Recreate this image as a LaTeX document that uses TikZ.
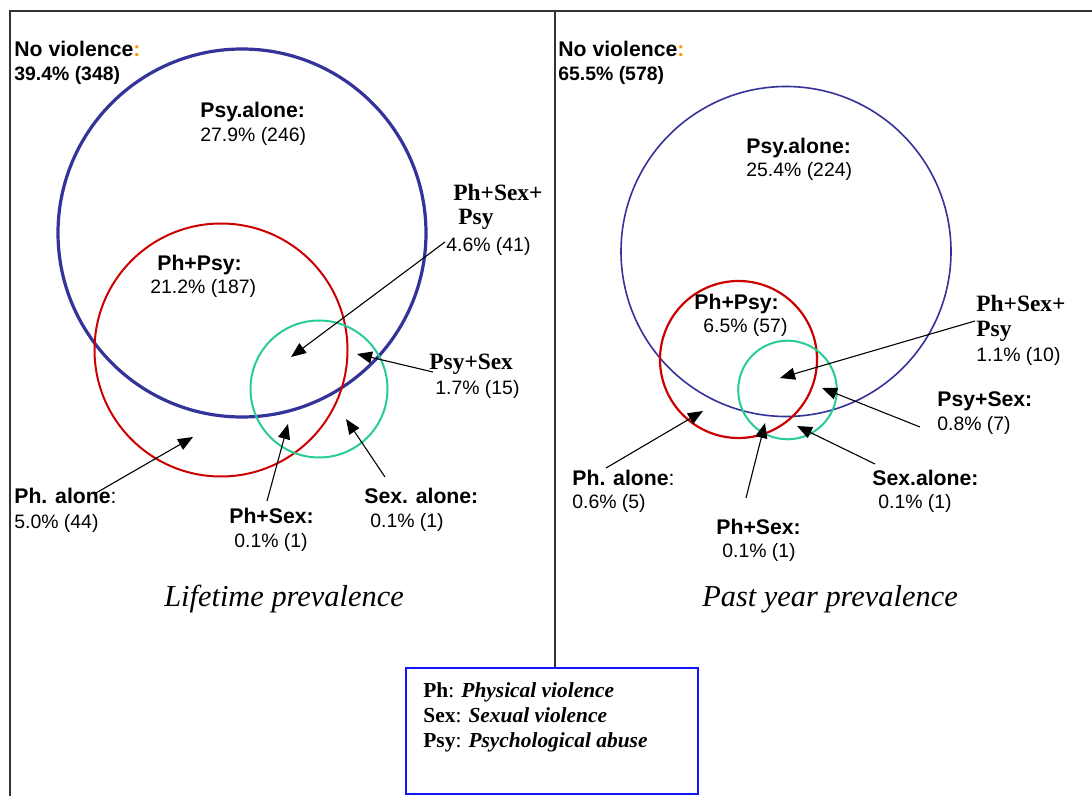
\documentclass[tikz,border=0pt]{standalone}
\usepackage{fontspec}
\setmainfont{Liberation Serif}
\setsansfont{Liberation Sans}
\usetikzlibrary{arrows.meta, positioning}

\definecolor{vblue}{RGB}{51,51,153}
\definecolor{vred}{RGB}{204,0,0}
\definecolor{vgreen}{RGB}{40,204,150}
\definecolor{vorange}{RGB}{255,153,0}
\definecolor{keyblue}{RGB}{20,20,255}

\begin{document}
\begin{tikzpicture}[x=0.5pt, y=-0.5pt,
    lbl/.style={anchor=base west, inner sep=0pt, font=\sffamily\bfseries\fontsize{10.6}{12}\selectfont},
    numb/.style={anchor=base west, inner sep=0pt, font=\sffamily\bfseries\fontsize{9.7}{12}\selectfont},
    num/.style={anchor=base west, inner sep=0pt, font=\sffamily\fontsize{9.7}{12}\selectfont},
    slbl/.style={anchor=base west, inner sep=0pt, font=\bfseries\fontsize{11.7}{13}\selectfont},
    heading/.style={anchor=base, inner sep=0pt, font=\itshape\fontsize{15.2}{18}\selectfont},
    keytext/.style={anchor=base west, inner sep=0pt, font=\fontsize{10.7}{12.5}\selectfont},
    pointer/.style={draw, line width=0.55pt, -{Triangle[length=7.5pt,width=6pt]}},
    frameline/.style={draw=black!80, line width=0.85pt}
]
\useasboundingbox (0,0) rectangle (1092,796);

% Frame
\draw[frameline] (1092,11) -- (10,11) -- (10,796);
\draw[frameline] (555,11) -- (555,668);

% Lifetime circles
\draw[vblue, line width=1.6pt] (242,233) circle [radius=184];
\draw[vred, line width=1pt] (221,350) circle [radius=126.5];
\draw[vgreen, line width=1pt] (319,389) circle [radius=68.5];

% Past year circles
\draw[vblue, line width=0.8pt] (786,251.5) circle [radius=165];
\draw[vred, line width=1.1pt] (738.5,359.5) circle [radius=78.5];
\draw[vgreen, line width=1pt] (787.5,390) circle [radius=49.3];

% Lifetime labels
\node[lbl] (lnone) at (14,57) {No violence{\color{vorange}:}};
\node[numb] (lnonev) at (14,81) {39.4\% (348)};
\node[lbl] (lpsy) at (200,118) {Psy.alone:};
\node[num] (lpsyv) at (200,142) {27.9\% (246)};
\node[lbl] (lphpsy) at (157,271) {Ph+Psy:};
\node[num] (lphpsyv) at (150,294) {21.2\% (187)};
\node[slbl] (lall) at (453,201) {Ph+Sex+};
\node[slbl] (lallb) at (458,225) {Psy};
\node[num] (lallv) at (446,252) {4.6\% (41)};
\node[slbl] (lpsysex) at (429,370) {Psy+Sex};
\node[num] (lpsysexv) at (435,394) {1.7\% (15)};
\node[lbl] (lph) at (14,503) {Ph. alone{\mdseries:}};
\node[num] (lphv) at (14,528) {5.0\% (44)};
\node[lbl] (lphsex) at (229,523) {Ph+Sex:};
\node[num] (lphsexv) at (234,547) {0.1\% (1)};
\node[lbl] (lsex) at (364,503) {Sex. alone:};
\node[num] (lsexv) at (370,527) {0.1\% (1)};
\node[heading] (ltitle) at (284,606) {Lifetime prevalence};

% Past year labels
\node[lbl] (pnone) at (558,57) {No violence{\color{vorange}:}};
\node[numb] (pnonev) at (558,81) {65.5\% (578)};
\node[lbl] (ppsy) at (746,154) {Psy.alone:};
\node[num] (ppsyv) at (746,177) {25.4\% (224)};
\node[lbl] (pphpsy) at (694,310) {Ph+Psy:};
\node[num] (pphpsyv) at (703,333) {6.5\% (57)};
\node[slbl] (pall) at (976,312) {Ph+Sex+};
\node[slbl] (pallb) at (976,337) {Psy};
\node[num] (pallv) at (976,362) {1.1\% (10)};
\node[lbl] (ppsysex) at (937,407) {Psy+Sex:};
\node[num] (ppsysexv) at (937,430) {0.8\% (7)};
\node[lbl] (psex) at (872,485) {Sex.alone:};
\node[num] (psexv) at (878,508) {0.1\% (1)};
\node[lbl] (pphsex) at (716,534) {Ph+Sex:};
\node[num] (pphsexv) at (722,557) {0.1\% (1)};
\node[lbl] (pph) at (572,485) {Ph. alone{\mdseries:}};
\node[num] (pphv) at (572,508) {0.6\% (5)};
\node[heading] (ptitle) at (830,606) {Past year prevalence};

% Pointer ends
\coordinate (lallt) at (445,242);   \coordinate (lallh) at (291,357);
\coordinate (lpst) at (433,372);    \coordinate (lpsh) at (357,354);
\coordinate (lpht) at (96,493);     \coordinate (lphh) at (193,437);
\coordinate (lpxt) at (267,501);    \coordinate (lpxh) at (288,424);
\coordinate (lsxt) at (385,477);    \coordinate (lsxh) at (346,419);
\coordinate (pallt) at (975,321);   \coordinate (pallh) at (780,378);
\coordinate (ppst) at (920,427);    \coordinate (ppsh) at (822,388);
\coordinate (psxt) at (875,464);    \coordinate (psxh) at (797,426);
\coordinate (ppxt) at (746,498);    \coordinate (ppxh) at (765,423);
\coordinate (ppht) at (606,468);    \coordinate (pphh) at (703,411);

% Pointers
\draw[pointer] (lallt) -- (lallh);
\draw[pointer] (lpst) -- (lpsh);
\draw[pointer] (lpht) -- (lphh);
\draw[pointer] (lpxt) -- (lpxh);
\draw[pointer] (lsxt) -- (lsxh);
\draw[pointer] (pallt) -- (pallh);
\draw[pointer] (ppst) -- (ppsh);
\draw[pointer] (psxt) -- (psxh);
\draw[pointer] (ppxt) -- (ppxh);
\draw[pointer] (ppht) -- (pphh);

% Key
\draw[keyblue, line width=1pt] (406,668) rectangle (698,794);
\node[keytext] (keyph) at (423,697) {\textbf{Ph}: \textbf{\textit{Physical violence}}};
\node[keytext] (keysex) at (423,722) {\textbf{Sex}: \textbf{\textit{Sexual violence}}};
\node[keytext] (keypsy) at (423,747) {\textbf{Psy}: \textbf{\textit{Psychological abuse}}};

\end{tikzpicture}
\end{document}
